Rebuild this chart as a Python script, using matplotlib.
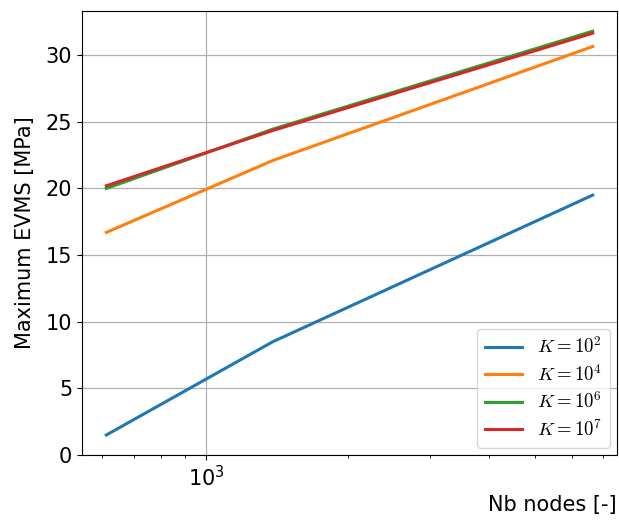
import matplotlib
matplotlib.use("Agg")
import matplotlib.pyplot as plt

plt.rcParams["mathtext.fontset"] = "cm"

nb_nodes = [612, 1385, 6650]
evms_k1e2 = [1.5, 8.5, 19.5]
evms_k1e4 = [16.7, 22.1, 30.65]
evms_k1e6 = [20.0, 24.45, 31.8]
evms_k1e7 = [20.2, 24.35, 31.65]

series = [
    (evms_k1e2, r"$K=10^2$", "#1f77b4"),
    (evms_k1e4, r"$K=10^4$", "#ff7f0e"),
    (evms_k1e6, r"$K=10^6$", "#2ca02c"),
    (evms_k1e7, r"$K=10^7$", "#d62728"),
]

fig = plt.figure(figsize=(6.19, 5.2), dpi=100)
ax = fig.add_axes([82 / 619, 1 - 455 / 520, (617 - 82) / 619, (455 - 11) / 520])

for values, label, color in series:
    ax.plot(nb_nodes, values, color=color, linewidth=2.2, label=label)

ax.set_xscale("log")
ax.set_ylim(bottom=0)
ax.grid(True, which="major", color="#b0b0b0", linewidth=0.9)
ax.tick_params(axis="both", which="major", labelsize=15)
ax.set_xlabel("Nb nodes [-]", fontsize=15, loc="right")
ax.set_ylabel("Maximum EVMS [MPa]", fontsize=15, labelpad=8)
ax.legend(loc="lower right", fontsize=13.5, labelspacing=0.35,
          borderaxespad=0.4)

fig.savefig("out.png", dpi=100)
